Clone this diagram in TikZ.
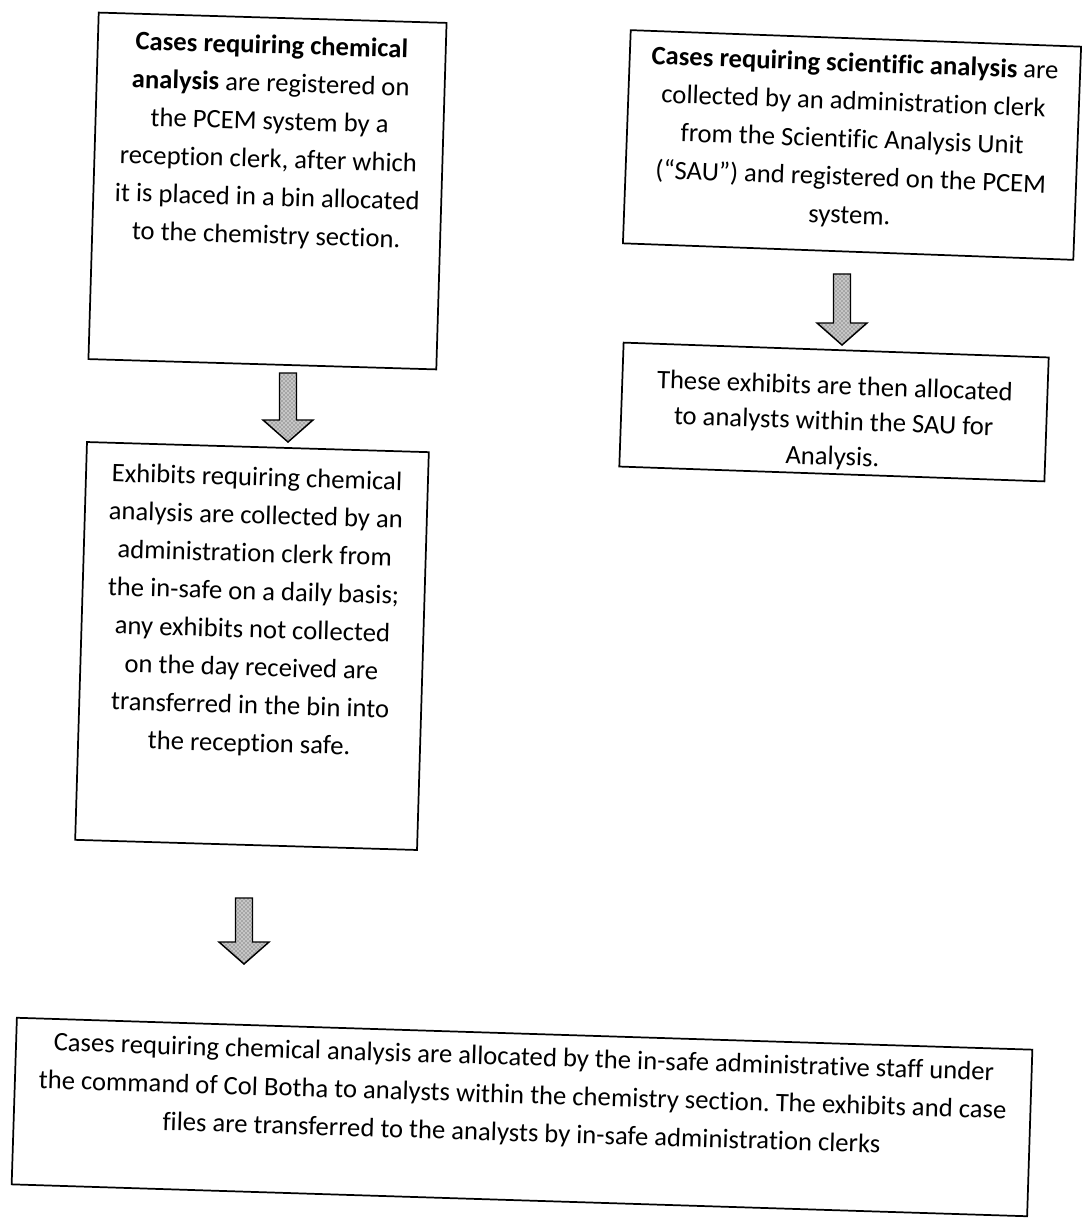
\documentclass[tikz,border=0pt]{standalone}
\usepackage{fontspec}
\setmainfont[Ligatures={NoCommon}]{Carlito}
\frenchspacing
\usetikzlibrary{calc,patterns}
\newcommand{\tb}[4]{\begin{minipage}[c][#1][t]{#2}\vspace*{#3}\centering\fontsize{20}{28.5}\selectfont #4\end{minipage}}
\newcommand{\blockarr}[2]{%
  \path[barrow] ($(#1)+(-8.5,0)$) -- ++(0,{#2-22}) -- ++(-16.5,0) -- ($(#1)+(0,#2)$)
    -- ($(#1)+(25,{#2-22})$) -- ++(-16.5,0) -- ($(#1)+(8.5,0)$) -- cycle;}
\tikzset{
  flowbox/.style={draw=black, line width=1.3pt, inner sep=0pt, fill=white},
  barrow/.style={draw=black, line width=1.1pt, preaction={fill=gray!45},
    pattern=crosshatch dots, pattern color=black!75, line join=miter}
}
\begin{document}
\begin{tikzpicture}[x=0.75pt,y=-0.75pt]
\useasboundingbox[fill=white] (0,0) rectangle (1082,1219);

% Box 1
\node[flowbox, rotate=-1.7, minimum width=261pt, minimum height=260pt] (b1) at (267.5,191)
  {\tb{254pt}{254pt}{10pt}{\textbf{Cases requiring chemical}\\
   \textbf{analysis} are registered on\\
   the PCEM system by a\\
   reception clerk, after which\\
   it is placed in a bin allocated\\
   to the chemistry section.}};

% Box 2
\node[flowbox, rotate=-2.1, minimum width=338pt, minimum height=160pt] (b2) at (852,145)
  {\tb{154pt}{334pt}{8pt}{\textbf{Cases requiring scientific analysis} are\\
   collected by an administration clerk\\
   from the Scientific Analysis Unit\\
   (“SAU”) and registered on the PCEM\\
   system.}};

% Box 3
\node[flowbox, rotate=-2.0, minimum width=319pt, minimum height=93pt] (b3) at (834,412)
  {\tb{88pt}{314pt}{17pt}{\fontsize{20}{26.5}\selectfont These exhibits are then allocated\\
   to analysts within the SAU for\\
   Analysis.}};

% Box 4
\node[flowbox, rotate=-1.7, minimum width=256.5pt, minimum height=298.5pt] (b4) at (252,646)
  {\tb{292pt}{250pt}{12pt}{Exhibits requiring chemical\\
   analysis are collected by an\\
   administration clerk from\\
   the in-safe on a daily basis;\\
   any exhibits not collected\\
   on the day received are\\
   transferred in the bin into\\
   the reception safe.}};

% Box 5
\node[flowbox, rotate=-1.8, minimum width=762pt, minimum height=125pt] (b5) at (522,1117)
  {\tb{119pt}{758pt}{7pt}{Cases requiring chemical analysis are allocated by the in-safe administrative staff under\\
   the command of Col Botha to analysts within the chemistry section. The exhibits and case\\
   files are transferred to the analysts by in-safe administration clerks}};

% Block arrows
\coordinate (a1) at (288,373);
\coordinate (a2) at (842,274);
\coordinate (a3) at (244,898);
\blockarr{a1}{69}
\blockarr{a2}{71}
\blockarr{a3}{66}
\end{tikzpicture}
\end{document}
